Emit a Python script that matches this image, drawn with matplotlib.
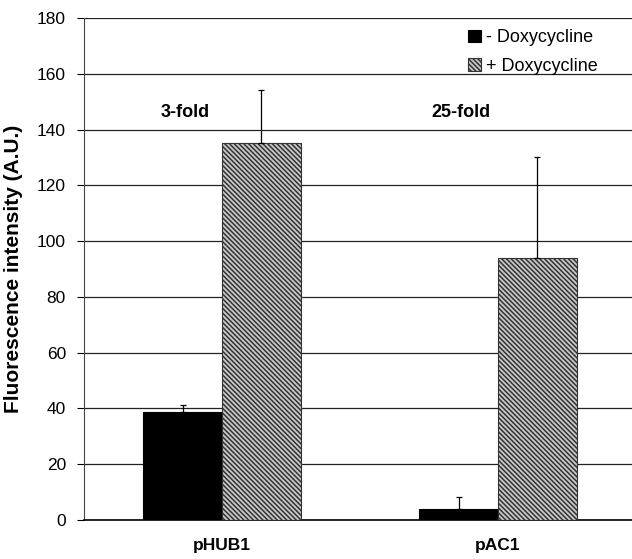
import numpy as np
import matplotlib
matplotlib.use("Agg")
import matplotlib.pyplot as plt

plt.rcParams['font.family'] = ['Liberation Sans', 'DejaVu Sans']
plt.rcParams['hatch.linewidth'] = 1.1
plt.rcParams['hatch.color'] = 'black'

categories = ["pHUB1", "pAC1"]
minus_dox = [38.6, 3.8]
minus_err = [2.6, 4.6]
plus_dox = [135.1, 94.0]
plus_err = [19.1, 36.0]
fold_labels = ["3-fold", "25-fold"]
fold_y = 146
y_ticks = list(range(0, 181, 20))

fig = plt.figure(figsize=(6.32, 5.59), dpi=100)
ax = fig.add_axes([84 / 632, 39 / 559, 552 / 632, 502 / 559])

x = np.arange(len(categories))
w = 0.286

# - doxycycline (solid black) with upward error bars
ax.bar(x - w / 2, minus_dox, w, color="black", edgecolor="black", linewidth=0.8,
       label="- Doxycycline", zorder=3)
ax.errorbar(x - w / 2, minus_dox, yerr=[np.zeros(len(minus_err)), minus_err],
            fmt="none", ecolor="black", elinewidth=0.9, capsize=2.5, capthick=0.9, zorder=4)

# + doxycycline (dense hatch)
ax.bar(x + w / 2, plus_dox, w, color="#c8c8c8", edgecolor="#333333", linewidth=0.8,
       hatch="\\\\\\\\\\\\\\", label="+ Doxycycline", zorder=3)
ax.errorbar(x + w / 2, plus_dox, yerr=[np.zeros(len(plus_err)), plus_err],
            fmt="none", ecolor="black", elinewidth=0.9, capsize=2.5, capthick=0.9, zorder=4)

for xi, lab in zip(x, fold_labels):
    ax.text(xi - w / 2 + 0.01, fold_y, lab, ha="center", va="center",
            fontsize=13, fontweight="bold")

ax.set_xlim(-0.5, 1.5)
ax.set_ylim(0, 180)
ax.set_yticks(y_ticks)
ax.set_xticks(x)
ax.set_xticklabels(categories, fontsize=12.5, fontweight="bold")
ax.tick_params(axis="x", length=0, pad=13)
ax.tick_params(axis="y", length=5, width=0.8, labelsize=12.5, pad=8)
ax.yaxis.grid(True, color="#222222", linewidth=0.9, zorder=0)
ax.set_axisbelow(True)

for side in ["top", "right"]:
    ax.spines[side].set_visible(False)
ax.spines["left"].set_color("#444444")
ax.spines["bottom"].set_color("black")
ax.spines["bottom"].set_linewidth(1.2)

ax.set_ylabel("Fluorescence intensity (A.U.)", fontsize=15, fontweight="bold", labelpad=10)

ax.legend(loc="upper right", bbox_to_anchor=(0.96, 1.01), frameon=False, fontsize=13,
          handlelength=0.7, handleheight=0.7, handletextpad=0.3, labelspacing=0.65)

fig.savefig("out.png", dpi=100)
